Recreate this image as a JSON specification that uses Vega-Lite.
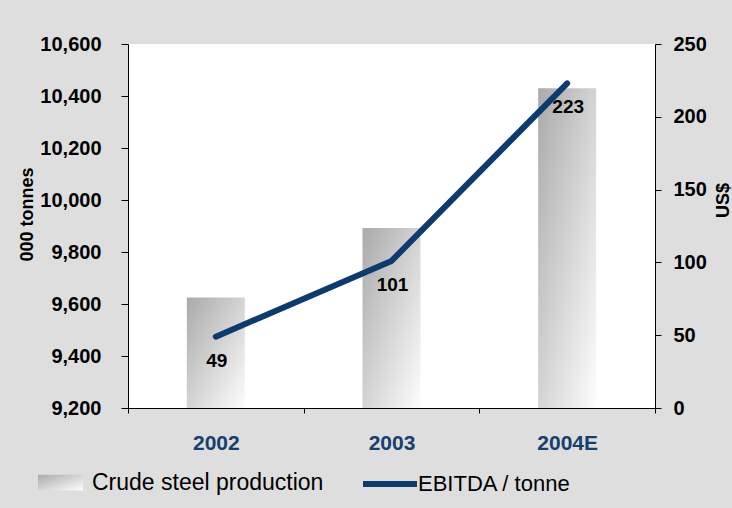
{
  "$schema": "https://vega.github.io/schema/vega-lite/v6.json",
  "width": 527,
  "height": 364,
  "autosize": {"type": "none"},
  "padding": {"left": 128, "top": 44, "right": 77, "bottom": 100},
  "background": "#dedede",
  "config": {
    "font": "Liberation Sans",
    "view": {"fill": "white", "stroke": null},
    "axis": {"grid": false, "domainColor": "black", "tickColor": "black", "labelColor": "black", "labelFont": "Liberation Sans", "labelFontWeight": "bold", "titleFont": "Liberation Sans", "titleFontWeight": "bold", "titleColor": "black"},
    "legend": {"labelFont": "Liberation Sans", "labelFontSize": 22, "labelColor": "black", "labelLimit": 400, "padding": 0, "title": null}
  },
  "data": {"values": [
    {"year": "2002", "production": 9625, "ebitda": 49},
    {"year": "2003", "production": 9892, "ebitda": 101},
    {"year": "2004E", "production": 10430, "ebitda": 223}
  ]},
  "encoding": {
    "x": {"field": "year", "type": "ordinal", "sort": null,
      "scale": {"paddingInner": 0, "paddingOuter": 0},
      "axis": {"title": null, "labelAngle": 0, "tickBand": "extent", "tickSize": 5, "labelPadding": 19, "labelFontSize": 21, "labelColor": "#173f6e", "domainWidth": 1}}
  },
  "layer": [
    {
      "mark": {"type": "bar", "size": 58, "color": {"gradient": "linear", "x1": 0, "y1": 0, "x2": 1, "y2": 1, "stops": [{"offset": 0, "color": "#aaaaaa"}, {"offset": 1, "color": "#fdfdfd"}]}},
      "encoding": {
        "y": {"field": "production", "type": "quantitative",
          "scale": {"domain": [9200, 10600], "zero": false, "nice": false},
          "axis": {"title": "000 tonnes", "values": [9200, 9400, 9600, 9800, 10000, 10200, 10400, 10600], "format": ",.0f", "tickSize": 7, "labelPadding": 20, "labelFontSize": 20, "titleFontSize": 18, "titleAngle": 270, "titleX": -101, "titleY": 170, "titleBaseline": "middle", "titleAlign": "center"}},
        "y2": {"datum": 9200},
        "opacity": {"datum": "Crude steel production", "type": "nominal", "scale": {"range": [1]},
          "legend": {"orient": "none", "legendX": -90, "legendY": 416, "symbolType": "M-1,-0.35H1V0.35H-1Z", "symbolSize": 2025, "symbolStrokeWidth": 0, "labelOffset": 9, "labelFontSize": 23,
            "encode": {"symbols": {"update": {"fill": {"value": {"gradient": "linear", "x1": 0, "y1": 0, "x2": 1, "y2": 1, "stops": [{"offset": 0, "color": "#aaaaaa"}, {"offset": 1, "color": "#fdfdfd"}]}}, "opacity": {"value": 1}, "strokeWidth": {"value": 0}}}}}}
      }
    },
    {
      "layer": [
        {
          "mark": {"type": "line", "strokeWidth": 6, "strokeCap": "round", "strokeJoin": "round"},
          "encoding": {
            "y": {"field": "ebitda", "type": "quantitative",
              "scale": {"domain": [0, 250], "nice": false},
              "axis": {"orient": "right", "title": "US$", "values": [0, 50, 100, 150, 200, 250], "tickSize": 6, "labelPadding": 12, "labelFontSize": 20, "titleFontSize": 18, "titleAngle": 270, "titleX": 68, "titleY": 156, "titleBaseline": "middle", "titleAlign": "center"}},
            "stroke": {"datum": "EBITDA / tonne", "type": "nominal", "scale": {"range": ["#0d3b6e"]},
              "legend": {"orient": "none", "legendX": 232, "legendY": 410, "symbolType": "stroke", "symbolSize": 2916, "symbolStrokeWidth": 6, "labelOffset": -2, "labelFontSize": 22}}
          }
        },
        {
          "mark": {"type": "text", "fontSize": 19, "fontWeight": "bold", "color": "black", "dy": 24, "dx": 1, "baseline": "middle"},
          "encoding": {
            "y": {"field": "ebitda", "type": "quantitative"},
            "text": {"field": "ebitda", "type": "quantitative"}
          }
        }
      ]
    }
  ],
  "resolve": {"scale": {"y": "independent", "opacity": "independent", "stroke": "independent"}}
}
